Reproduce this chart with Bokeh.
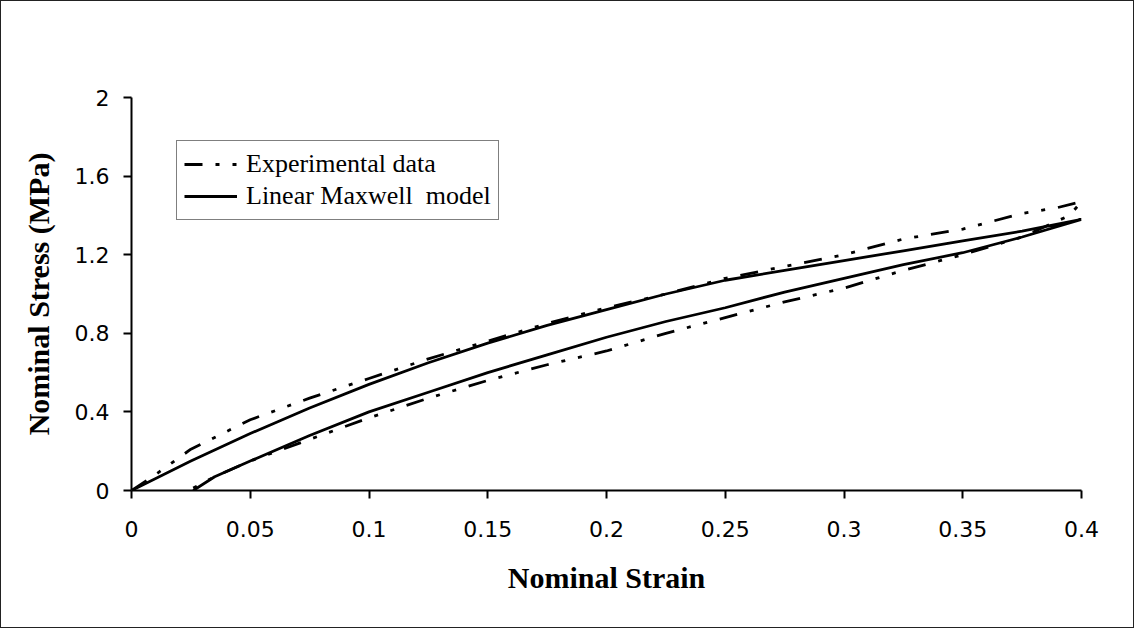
from bokeh.plotting import figure
from bokeh.models import Range1d, FixedTicker, Legend, LegendItem
from bokeh.embed import file_html
from bokeh.resources import INLINE

# Experimental data (loading then unloading)
exp_strain = [0.0, 0.01, 0.025, 0.05, 0.075, 0.1, 0.125, 0.15, 0.175, 0.2, 0.225, 0.25,
              0.275, 0.3, 0.325, 0.35, 0.375, 0.39, 0.4,
              0.395, 0.375, 0.35, 0.325, 0.3, 0.275, 0.25, 0.225, 0.2, 0.175, 0.15,
              0.125, 0.1, 0.075, 0.05, 0.035, 0.024]
exp_stress = [0.0, 0.08, 0.21, 0.36, 0.47, 0.57, 0.67, 0.76, 0.85, 0.93, 1.00, 1.08,
              1.14, 1.20, 1.28, 1.33, 1.41, 1.44, 1.47,
              1.40, 1.29, 1.20, 1.12, 1.03, 0.96, 0.88, 0.80, 0.71, 0.64, 0.56,
              0.47, 0.37, 0.26, 0.15, 0.07, 0.0]

# Linear Maxwell model (loading then unloading)
model_strain = [0.0, 0.025, 0.05, 0.075, 0.1, 0.125, 0.15, 0.175, 0.2, 0.225, 0.25,
                0.275, 0.3, 0.325, 0.35, 0.375, 0.4,
                0.375, 0.35, 0.325, 0.3, 0.275, 0.25, 0.225, 0.2, 0.175, 0.15,
                0.125, 0.1, 0.075, 0.05, 0.035, 0.026]
model_stress = [0.0, 0.15, 0.29, 0.42, 0.54, 0.65, 0.75, 0.84, 0.92, 1.00, 1.07,
                1.12, 1.17, 1.22, 1.27, 1.32, 1.38,
                1.29, 1.21, 1.15, 1.08, 1.01, 0.93, 0.86, 0.78, 0.69, 0.60,
                0.50, 0.40, 0.28, 0.15, 0.07, 0.0]

x_ticks = [0, 0.05, 0.1, 0.15, 0.2, 0.25, 0.3, 0.35, 0.4]
x_tick_labels = ["0", "0.05", "0.1", "0.15", "0.2", "0.25", "0.3", "0.35", "0.4"]
y_ticks = [0, 0.4, 0.8, 1.2, 1.6, 2.0]
y_tick_labels = ["0", "0.4", "0.8", "1.2", "1.6", "2"]

p = figure(width=1134, height=628, output_backend="svg", toolbar_location=None,
           x_range=Range1d(0, 0.4), y_range=Range1d(0, 2),
           min_border_left=130, min_border_right=54, min_border_top=96, min_border_bottom=139)
p.styles = {"border": "1px solid #222"}
p.outline_line_color = None
p.xgrid.visible = False
p.ygrid.visible = False
p.background_fill_color = "white"
p.border_fill_color = "white"

r_exp = p.line(exp_strain, exp_stress, line_color="black", line_width=2.8,
               line_dash="18 13 4 13 4 13")
r_mod = p.line(model_strain, model_stress, line_color="black", line_width=2.8)

for ax, ticks, labels in ((p.xaxis[0], x_ticks, x_tick_labels), (p.yaxis[0], y_ticks, y_tick_labels)):
    ax.ticker = FixedTicker(ticks=ticks)
    ax.major_label_overrides = {t: l for t, l in zip(ticks, labels)}
    ax.minor_tick_line_color = None
    ax.axis_line_width = 2
    ax.axis_line_color = "black"
    ax.major_tick_line_width = 2
    ax.major_tick_line_color = "black"
    ax.major_tick_in = 0
    ax.major_tick_out = 8
    ax.major_label_text_font = "DejaVu Sans"
    ax.major_label_text_font_size = "22px"
    ax.major_label_text_color = "black"
    ax.axis_label_text_font = "Liberation Serif"
    ax.axis_label_text_font_style = "bold"
    ax.axis_label_text_font_size = "30px"
    ax.axis_label_text_color = "black"

p.xaxis.axis_label = "Nominal Strain"
p.yaxis.axis_label = "Nominal Stress (MPa)"
p.xaxis.major_label_standoff = 22
p.xaxis.axis_label_standoff = 21
p.yaxis.major_label_standoff = 14
p.yaxis.axis_label_standoff = 17

legend = Legend(items=[LegendItem(label="Experimental data", renderers=[r_exp]),
                       LegendItem(label="Linear Maxwell  model", renderers=[r_mod])],
                location=(45, 270))
legend.margin = 0
legend.padding = 7
legend.spacing = 0
legend.glyph_width = 53
legend.glyph_height = 32
legend.label_height = 32
legend.label_standoff = 9
legend.label_text_font = "Liberation Serif"
legend.label_text_font_size = "26px"
legend.label_text_color = "black"
legend.border_line_color = "black"
legend.border_line_width = 1
legend.background_fill_color = "white"
legend.background_fill_alpha = 1
p.add_layout(legend)

open("out.html", "w").write(file_html(p, INLINE))
